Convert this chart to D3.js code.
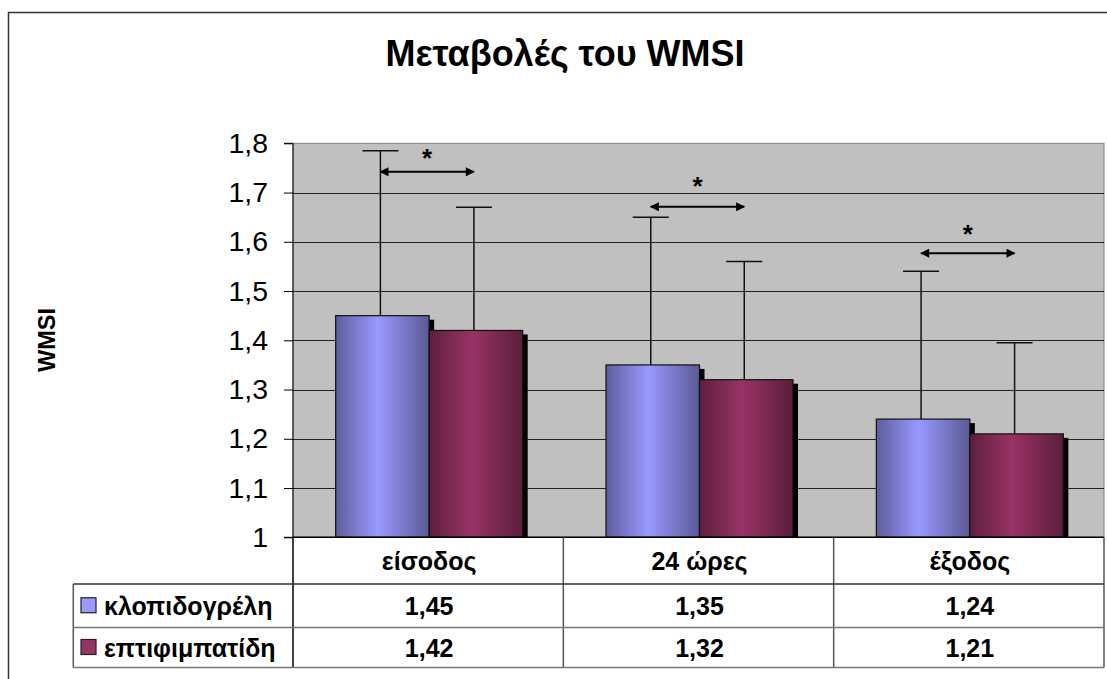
<!DOCTYPE html>
<html>
<head>
<meta charset="utf-8">
<script src="https://cdnjs.cloudflare.com/ajax/libs/d3/7.8.5/d3.min.js"></script>
<style>
body { margin: 0; background: #fff; }
svg { display: block; font-family: "Liberation Sans", Arial, sans-serif; }
</style>
</head>
<body>
<div class="container"></div>
<script>
var categories = ["είσοδος", "24 ώρες", "έξοδος"];
var seriesNames = ["κλοπιδογρέλη", "επτιφιμπατίδη"];
var blueVals = [1.45, 1.35, 1.24];
var redVals = [1.42, 1.32, 1.21];
var blueSD = [0.335, 0.30, 0.30];
var redSD = [0.25, 0.24, 0.185];
var yTicks = [1, 1.1, 1.2, 1.3, 1.4, 1.5, 1.6, 1.7, 1.8];
// significance arrows (*) drawn between the two bars of each group
var arrowLevels = [1.742, 1.671, 1.577];
var starLevels = [1.775, 1.718, 1.62];

(function(){
var W = 1107, H = 679;
var pLeft = 293, pRight = 1104, pTop = 143.3, pBottom = 537.3;
var rowLines = [584, 627.5, 667.5];
var legendLeft = 73.3;

var locale = d3.formatLocale({decimal: ",", thousands: ".", grouping: [3], currency: ["", "€"]});
var fmtTick = locale.format(".1~f");
var fmtVal = locale.format(".2f");

var series = [
  {name: seriesNames[0], vals: blueVals, sd: blueSD, base: "#9999ff", id: "gBlue"},
  {name: seriesNames[1], vals: redVals, sd: redSD, base: "#993366", id: "gRed"}
];

var svg = d3.select('.container').append('svg').attr('width', W).attr('height', H);

var defs = svg.append('defs');
series.forEach(function(s){
  var c = d3.color(s.base);
  var g = defs.append('linearGradient').attr('id', s.id).attr('x1', 0).attr('x2', 1).attr('y1', 0).attr('y2', 0);
  g.append('stop').attr('offset', 0).attr('stop-color', c.darker(1.4));
  g.append('stop').attr('offset', 0.45).attr('stop-color', c);
  g.append('stop').attr('offset', 1).attr('stop-color', c.darker(1.5));
});
defs.append('marker').attr('id', 'ahead')
  .attr('viewBox', '0 0 10 10').attr('refX', 9).attr('refY', 5)
  .attr('markerWidth', 10).attr('markerHeight', 9).attr('markerUnits', 'userSpaceOnUse')
  .attr('orient', 'auto-start-reverse')
  .append('path').attr('d', 'M0,0L10,5L0,10Z').attr('fill', '#000');

// outer frame
svg.append('rect').attr('x', 8.5).attr('y', 12.5).attr('width', 1300).attr('height', 800)
  .attr('fill', 'none').attr('stroke', '#333').attr('stroke-width', 1.5);

svg.append('text').attr('x', 565).attr('y', 66).attr('text-anchor', 'middle')
  .attr('font-size', 36).attr('font-weight', 'bold').text('Μεταβολές του WMSI');

var x0 = d3.scaleBand().domain(categories).range([pLeft, pRight]);
var x1 = d3.scaleBand().domain(seriesNames).range([0, x0.bandwidth()]).paddingOuter(0.4455).paddingInner(0);
var y = d3.scaleLinear().domain([1, 1.8]).range([pBottom, pTop]);

// plot area
svg.append('rect').attr('x', pLeft).attr('y', pTop).attr('width', pRight - pLeft).attr('height', pBottom - pTop)
  .attr('fill', '#c0c0c0').attr('stroke', '#808080');

svg.append('g').selectAll('line').data(yTicks.slice(1, -1)).enter().append('line')
  .attr('x1', pLeft).attr('x2', pRight)
  .attr('y1', function(d){ return Math.round(y(d)) + 0.5; }).attr('y2', function(d){ return Math.round(y(d)) + 0.5; })
  .attr('stroke', '#222').attr('stroke-width', 1);

var groups = svg.append('g').selectAll('g').data(series).enter().append('g');

function cells(s){ return s.vals.map(function(v, i){ return {s: s, v: v, i: i}; }); }

// shadows
groups.selectAll('rect.sh').data(cells)
  .enter().append('rect').attr('class', 'sh')
  .attr('x', function(d){ return x0(categories[d.i]) + x1(d.s.name) + 6; })
  .attr('y', function(d){ return y(d.v) + 4; })
  .attr('width', x1.bandwidth()).attr('height', function(d){ return pBottom - y(d.v) - 4; })
  .attr('fill', '#000');

groups.selectAll('rect.bar').data(cells)
  .enter().append('rect').attr('class', 'bar')
  .attr('x', function(d){ return x0(categories[d.i]) + x1(d.s.name) + 1; })
  .attr('y', function(d){ return y(d.v); })
  .attr('width', x1.bandwidth()).attr('height', function(d){ return pBottom - y(d.v); })
  .attr('fill', function(d){ return 'url(#' + d.s.id + ')'; })
  .attr('stroke', '#111').attr('stroke-width', 1.2);

// error bars (upper only)
function errX(s, i){ return x0(categories[i]) + x1(s.name) + x1.bandwidth() / 2 - 1; }
series.forEach(function(s){
  var eg = svg.append('g').attr('stroke', '#111').attr('stroke-width', 1.5);
  s.vals.forEach(function(v, i){
    var cx = errX(s, i), ty = y(v + s.sd[i]);
    eg.append('line').attr('x1', cx).attr('x2', cx).attr('y1', y(v)).attr('y2', ty);
    eg.append('line').attr('x1', cx - 18).attr('x2', cx + 18).attr('y1', ty).attr('y2', ty);
  });
});

// significance arrows
categories.forEach(function(c, i){
  var xa = errX(series[0], i), xb = errX(series[1], i);
  svg.append('line').attr('x1', xa).attr('x2', xb).attr('y1', y(arrowLevels[i])).attr('y2', y(arrowLevels[i]))
    .attr('stroke', '#000').attr('stroke-width', 2)
    .attr('marker-start', 'url(#ahead)').attr('marker-end', 'url(#ahead)');
  svg.append('text').attr('x', (xa + xb) / 2).attr('y', y(starLevels[i]) + 11)
    .attr('text-anchor', 'middle').attr('font-size', 26).attr('font-weight', 'bold').text('*');
});

// y axis
var yAxis = d3.axisLeft(y).tickValues(yTicks).tickSize(9).tickPadding(16).tickFormat(fmtTick);
var ga = svg.append('g').attr('transform', 'translate(' + pLeft + ',0)').call(yAxis);
ga.select('.domain').attr('stroke', '#000').attr('d', 'M-9,' + pTop + 'H0V' + pBottom + 'H-9');
ga.selectAll('line').attr('stroke', '#000');
ga.selectAll('text').attr('font-size', 28.5).attr('font-family', '"Liberation Sans", Arial, sans-serif').attr('fill', '#000');

svg.append('line').attr('x1', pLeft).attr('x2', pRight).attr('y1', pBottom).attr('y2', pBottom).attr('stroke', '#000').attr('stroke-width', 1.5);

svg.append('text').attr('transform', 'translate(55,340) rotate(-90)').attr('text-anchor', 'middle')
  .attr('font-size', 23.5).attr('font-weight', 'bold').text('WMSI');

// data table
var tb = svg.append('g');
var bounds = categories.map(function(c){ return x0(c); }).concat([pRight]);
bounds.forEach(function(bx, i){
  tb.append('line').attr('x1', bx).attr('x2', bx).attr('y1', pBottom).attr('y2', rowLines[2])
    .attr('stroke', i === 0 ? '#000' : '#555').attr('stroke-width', 1.5);
});
tb.append('line').attr('x1', legendLeft).attr('x2', legendLeft).attr('y1', rowLines[0]).attr('y2', rowLines[2]).attr('stroke', '#555').attr('stroke-width', 1.5);
rowLines.forEach(function(ry, i){
  tb.append('line').attr('x1', legendLeft).attr('x2', pRight).attr('y1', ry).attr('y2', ry)
    .attr('stroke', i === 0 ? '#333' : '#777').attr('stroke-width', 1.5);
});
categories.forEach(function(c){
  tb.append('text').attr('x', x0(c) + x0.bandwidth() / 2 + 1).attr('y', (pBottom + rowLines[0]) / 2 + 9)
    .attr('text-anchor', 'middle').attr('font-size', 25).attr('font-weight', 'bold').text(c);
});
series.forEach(function(s, k){
  var r0 = rowLines[k], r1 = rowLines[k + 1], cy = (r0 + r1) / 2;
  tb.append('rect').attr('x', 81).attr('y', cy - 8).attr('width', 15).attr('height', 15)
    .attr('fill', s.base).attr('stroke', '#222').attr('stroke-width', 1.2);
  tb.append('text').attr('x', 104).attr('y', cy + 9).attr('font-size', 25).attr('font-weight', 'bold').text(s.name);
  s.vals.forEach(function(v, i){
    tb.append('text').attr('x', x0(categories[i]) + x0.bandwidth() / 2 + 1).attr('y', cy + 9)
      .attr('text-anchor', 'middle').attr('font-size', 25).attr('font-weight', 'bold').text(fmtVal(v));
  });
});
})();
</script>
</body>
</html>
